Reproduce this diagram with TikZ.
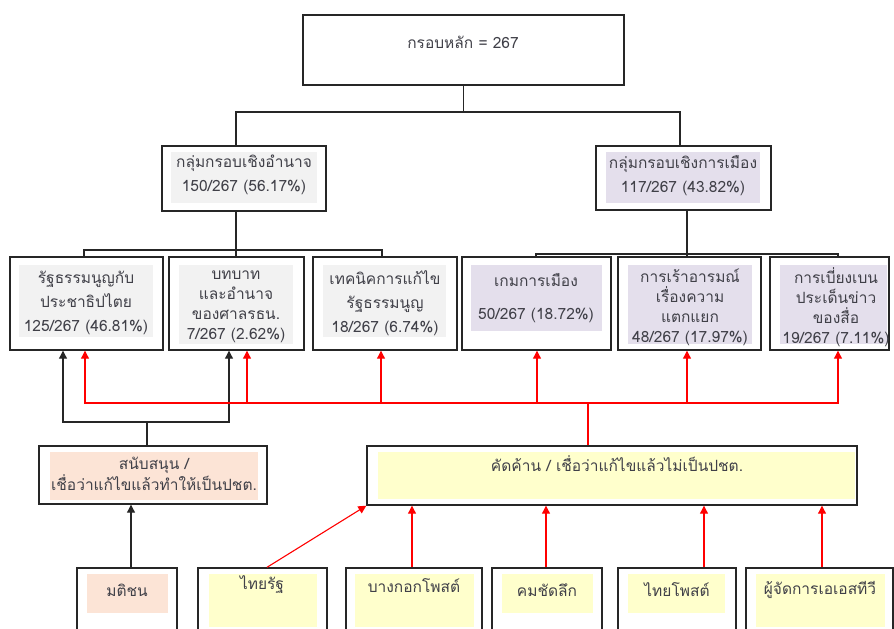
\documentclass[tikz,border=0pt]{standalone}
\usepackage{fontspec}
\newfontfamily\thaifont[Script=Thai]{Loma}
\usetikzlibrary{arrows.meta}
\definecolor{fgray}{HTML}{F2F2F2}
\definecolor{flav}{HTML}{E4DFEC}
\definecolor{fpeach}{HTML}{FCE4D6}
\definecolor{fyel}{HTML}{FFFFCC}
\definecolor{txtc}{HTML}{404048}
\begin{document}
\begin{tikzpicture}[x=1pt,y=-1pt,
  frame/.style={draw=black!85,line width=1.4pt,inner sep=0pt,fill=white},
  txt/.style={font=\thaifont\fontsize{15.5}{24}\selectfont,text=txtc,align=center,inner sep=0pt},
  txtf/.style={font=\thaifont\fontsize{15.5}{20}\selectfont,text=txtc,align=center,inner sep=0pt},
  tree/.style={draw=black!85,line width=1.1pt},
  blk/.style={draw=black!85,line width=1.1pt,-{Triangle[width=8pt,length=8pt]}},
  redline/.style={draw=red,line width=1.1pt},
  rd/.style={draw=red,line width=1.1pt,-{Triangle[width=8pt,length=8pt]}},
  ]
\useasboundingbox (0,0) rectangle (894,629);
\fill[white] (0,0) rectangle (894,629);

% top
\node[frame,minimum width=321pt,minimum height=70pt] (top) at (463.5,50) {};
\node[txt] (toptxt) at (463,42) {กรอบหลัก = 267};

% group boxes
\node[frame,minimum width=164pt,minimum height=65pt] (g1) at (244,178.5) {};
\fill[fgray] (171,152) rectangle (317,203);
\node[txt] (g1t) at (244,175) {กลุ่มกรอบเชิงอำนาจ\\150/267 (56.17\%)};

\node[frame,minimum width=175pt,minimum height=64pt] (g2) at (683.5,178) {};
\fill[flav] (606,152) rectangle (760,203);
\node[txt] (g2t) at (683,175.5) {กลุ่มกรอบเชิงการเมือง\\117/267 (43.82\%)};

% layer 3
\node[frame,minimum width=153pt,minimum height=93pt] (b1) at (86.5,303.5) {};
\fill[fgray] (19,265) rectangle (153,337);
\node[txt] (b1t) at (86,303) {รัฐธรรมนูญกับ\\ประชาธิปไตย\\125/267 (46.81\%)};

\node[frame,minimum width=135pt,minimum height=93pt] (b2) at (236.5,303.5) {};
\fill[fgray] (179,265) rectangle (293,344);
\node[txtf] (b2t) at (236,307) {บทบาท\\และอำนาจ\\ของศาลรธน.\\7/267 (2.62\%)};

\node[frame,minimum width=144pt,minimum height=93pt] (b3) at (385,303.5) {};
\fill[fgray] (323,265) rectangle (446,337);
\node[txt] (b3t) at (385,303) {เทคนิคการแก้ไข\\รัฐธรรมนูญ\\18/267 (6.74\%)};

\node[frame,minimum width=149pt,minimum height=93pt] (b4) at (536.5,303.5) {};
\fill[flav] (471,265) rectangle (602,331);
\node[font=\thaifont\fontsize{15.5}{33}\selectfont,text=txtc,align=center,inner sep=0pt] (b4t) at (536,298.5) {เกมการเมือง\\50/267 (18.72\%)};

\node[frame,minimum width=143pt,minimum height=93pt] (b5) at (689.5,303.5) {};
\fill[flav] (628,265) rectangle (752,344);
\node[txtf] (b5t) at (690,307) {การเร้าอารมณ์\\เรื่องความ\\แตกแยก\\48/267 (17.97\%)};

\node[frame,minimum width=119pt,minimum height=93pt] (b6) at (829.5,303.5) {};
\fill[flav] (780,265) rectangle (887,344);
\node[txtf] (b6t) at (836,307) {การเบี่ยงเบน\\ประเด็นข่าว\\ของสื่อ\\19/267 (7.11\%)};

% stance boxes
\node[frame,minimum width=228pt,minimum height=58pt] (sup) at (153,475) {};
\fill[fpeach] (50,452) rectangle (258,500);
\node[font=\thaifont\fontsize{15.5}{19}\selectfont,text=txtc,align=center,inner sep=0pt] (supt) at (154,473.5) {สนับสนุน /\\เชื่อว่าแก้ไขแล้วทำให้เป็นปชต.};

\node[frame,minimum width=490pt,minimum height=59pt] (opp) at (612,475.5) {};
\fill[fyel] (378,452) rectangle (855,499);
\node[txt] (oppt) at (617,464) {คัดค้าน / เชื่อว่าแก้ไขแล้วไม่เป็นปชต.};

% bottom sources
\node[frame,minimum width=100pt,minimum height=72pt] (m1) at (127,604) {};
\fill[fpeach] (87,574) rectangle (168,613);
\node[txt] (m1t) at (127,590) {มติชน};

\node[frame,minimum width=129pt,minimum height=72pt] (m2) at (262.5,604) {};
\fill[fyel] (209,574) rectangle (317,627);
\node[txt] (m2t) at (262,585) {ไทยรัฐ};

\node[frame,minimum width=136pt,minimum height=72pt] (m3) at (414,604) {};
\fill[fyel] (355,574) rectangle (474,627);
\node[txt] (m3t) at (414,586) {บางกอกโพสต์};

\node[frame,minimum width=110pt,minimum height=72pt] (m4) at (547,604) {};
\fill[fyel] (502,574) rectangle (593,613);
\node[txt] (m4t) at (547,590) {คมชัดลึก};

\node[frame,minimum width=118pt,minimum height=72pt] (m5) at (677,604) {};
\fill[fyel] (628,574) rectangle (725,613);
\node[txt] (m5t) at (677,590) {ไทยโพสต์};

\node[frame,minimum width=147pt,minimum height=72pt] (m6) at (819.5,604) {};
\fill[fyel] (756,574) rectangle (885,627);
\node[txt] (m6t) at (820,590) {ผู้จัดการเอเอสทีวี};

% tree connectors
\draw[tree] (top.south) -- (top.south |- 0,112);
\draw[tree] (g1.north -| 236,0) -- (236,112) -- (680,112) -- (g2.north -| 680,0);
\draw[tree] (g1.south -| 236,0) -- (b2.north -| 236,0);
\draw[tree] (b1.north -| 84,0) -- (84,250) -- (382,250) -- (b3.north -| 382,0);
\draw[tree] (g2.south -| 687,0) -- (b5.north -| 687,0);
\draw[tree] (b4.north -| 536,0) -- (536,254) -- (838,254) -- (b6.north -| 838,0);

% support arrows (black)
\draw[tree] (sup.north -| 147,0) -- (147,422);
\draw[blk] (147,422) -| (b1.south -| 63,0);
\draw[blk] (147,422) -| (b2.south -| 229,0);

% oppose arrows (red)
\draw[redline] (opp.north -| 588,0) -- (588,403);
\draw[rd] (588,403) -| (b1.south -| 85,0);
\draw[rd] (588,403) -| (b2.south -| 247,0);
\draw[rd] (588,403) -| (b3.south -| 381,0);
\draw[rd] (588,403) -| (b4.south -| 537,0);
\draw[rd] (588,403) -| (b5.south -| 687,0);
\draw[rd] (588,403) -| (b6.south -| 838,0);

% sources to stances
\draw[blk] (m1.north -| 131,0) -- (sup.south -| 131,0);
\draw[rd] (m2.north -| 267,0) -- (opp.south west);
\draw[rd] (m3.north -| 412,0) -- (opp.south -| 412,0);
\draw[rd] (m4.north -| 546,0) -- (opp.south -| 546,0);
\draw[rd] (m5.north -| 704,0) -- (opp.south -| 704,0);
\draw[rd] (m6.north -| 822,0) -- (opp.south -| 822,0);
\end{tikzpicture}
\end{document}
